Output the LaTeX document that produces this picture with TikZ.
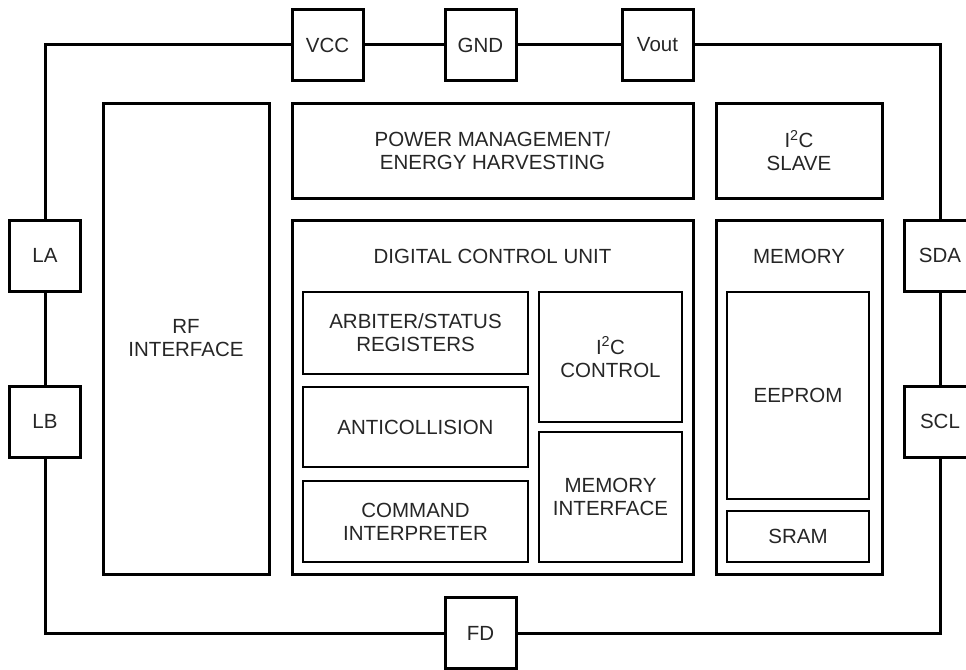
\documentclass[tikz,border=0pt]{standalone}
\usepackage{fontspec}
\setmainfont{Liberation Sans}
\usepackage{xcolor}

\begin{document}
\begin{tikzpicture}[x=1pt,y=-1pt,
    blk/.style={draw,rectangle,line width=3pt,align=center,text=black!85,
        font=\fontsize{20.5}{23}\selectfont},
    sub/.style={blk,line width=1.9pt},
    pin/.style={blk,minimum width=71pt,minimum height=71pt},
    wire/.style={line width=3pt}]
    \clip (0,0) rectangle (966,669);

    % Pins
    \node[pin] (vcc) at (327.5,45) {VCC};
    \node[pin] (gnd) at (480.5,45) {GND};
    \node[pin] (vout) at (657.5,45) {Vout};
    \node[pin] (la) at (45,255.5) {LA};
    \node[pin] (lb) at (45,421.5) {LB};
    \node[pin] (sda) at (940,255.5) {SDA};
    \node[pin] (scl) at (940,421.5) {SCL};
    \node[pin] (fd) at (480.5,633) {FD};

    % Wires
    \draw[wire] (gnd.west) -- (vcc.east);
    \draw[wire] (vout.west) -- (gnd.east);
    \draw[wire] (vcc.west) -| (la.north);
    \draw[wire] (la.south) -- (lb.north);
    \draw[wire] (lb.south) |- (fd.west);
    \draw[wire] (fd.east) -| (scl.south);
    \draw[wire] (scl.north) -- (sda.south);
    \draw[wire] (sda.north) |- (vout.east);

    % Main blocks
    \node[blk,minimum width=166pt,minimum height=471pt] (rf) at (186,338.5) {RF\\INTERFACE};
    \node[blk,minimum width=401pt,minimum height=95pt] (pwr) at (492.5,150.5) {POWER MANAGEMENT/\\ENERGY HARVESTING};
    \node[blk,minimum width=166pt,minimum height=95pt] (slave) at (799,150.5) {I\textsuperscript{2}C\\SLAVE};
    \node[blk,minimum width=401pt,minimum height=354pt] (dcu) at (492.5,397) {};
    \node[blk,minimum width=166pt,minimum height=354pt] (mem) at (799,397) {};
    \node[blk,draw=none] (dcutitle) at (492.5,256) {DIGITAL CONTROL UNIT};
    \node[blk,draw=none] (memtitle) at (799,256) {MEMORY};

    % Digital control unit
    \node[sub,minimum width=225pt,minimum height=82pt] (arb) at (415.5,333) {ARBITER/STATUS\\REGISTERS};
    \node[sub,minimum width=225pt,minimum height=80pt] (anti) at (415.5,427) {ANTICOLLISION};
    \node[sub,minimum width=225pt,minimum height=81pt] (cmd) at (415.5,521.5) {COMMAND\\INTERPRETER};
    \node[sub,minimum width=143pt,minimum height=130pt] (i2cctl) at (610.5,357) {I\textsuperscript{2}C\\CONTROL};
    \node[sub,minimum width=143pt,minimum height=130pt] (memif) at (610.5,497) {MEMORY\\INTERFACE};

    % Memory
    \node[sub,minimum width=142pt,minimum height=207pt] (eeprom) at (798,395.5) {EEPROM};
    \node[sub,minimum width=142pt,minimum height=51pt] (sram) at (798,536.5) {SRAM};
\end{tikzpicture}
\end{document}
